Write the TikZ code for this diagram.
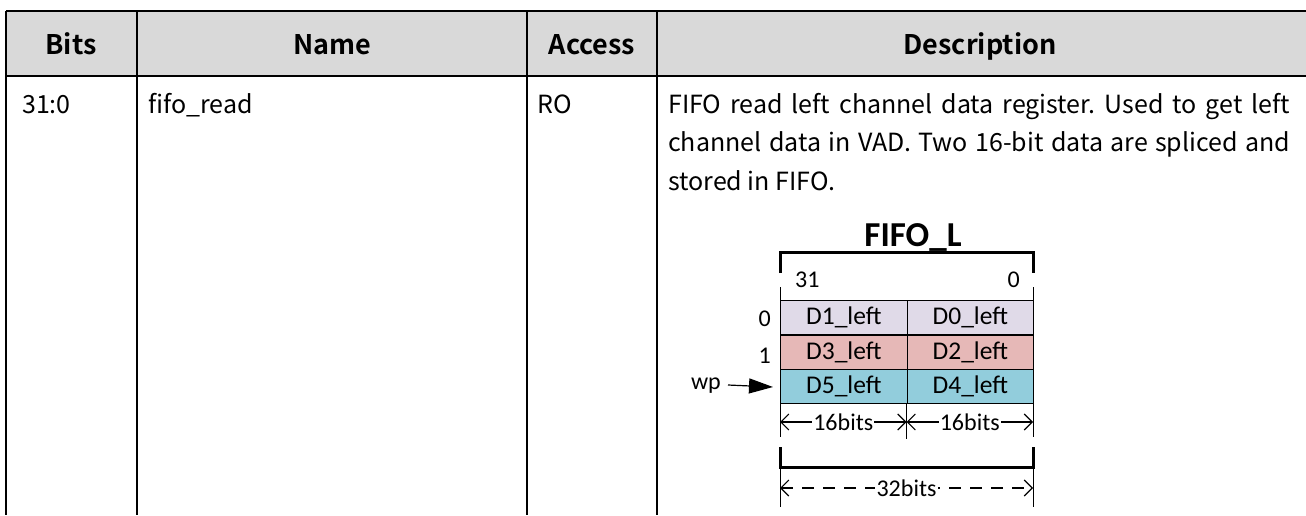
\documentclass[tikz,border=0pt]{standalone}
\usepackage{fontspec}
\usetikzlibrary{arrows.meta}
\newfontfamily\tblfont{Noto Sans CJK SC}[BoldFont={Noto Sans CJK SC Bold}]
\newfontfamily\figfont{Carlito}
\definecolor{hdrgray}{HTML}{D9D9D9}
\definecolor{rowlav}{HTML}{E0DAE8}
\definecolor{rowpink}{HTML}{E6B8B7}
\definecolor{rowteal}{HTML}{92CDDC}
\frenchspacing
\tikzset{
  tline/.style={line width=2pt},
  hdr/.style={font=\tblfont\bfseries\fontsize{27}{30}\selectfont, anchor=base},
  body/.style={font=\tblfont\fontsize{25}{30}\selectfont, anchor=base west, inner sep=0pt},
  cell/.style={draw=black, line width=1.1pt, minimum width=126.5pt, minimum height=34pt, inner sep=0pt, font=\figfont\fontsize{25.5}{26}\selectfont},
  fig/.style={font=\figfont\fontsize{24}{26}\selectfont, inner sep=0pt},
  thin/.style={line width=1pt},
  thick/.style={line width=3pt},
  dim/.style={line width=1.1pt, {Straight Barb[length=8pt,width=16pt]}-{Straight Barb[length=8pt,width=16pt]}},
}
\begin{document}
\begin{tikzpicture}[x=1pt,y=-1pt]
\useasboundingbox (0,0) rectangle (1306,515);
% header
\fill[hdrgray] (6,11) rectangle (1306,76);
\draw[tline] (6,11) -- (1306,11);
\draw[tline] (6,76) -- (1306,76);
\draw[tline] (6,11) -- (6,515);
\draw[tline] (137,11) -- (137,515);
\draw[tline] (527,11) -- (527,515);
\draw[tline] (657,11) -- (657,515);
\node[hdr] (hbits) at (71,54) {Bits};
\node[hdr] (hname) at (332,54) {Name};
\node[hdr] (hacc) at (592,54) {Access};
\node[hdr] (hdesc) at (980,54) {Description};
% body
\node[body] (bits) at (22,113) {31:0};
\node[body] (name) at (148,113) {fifo\_read};
\node[body] (acc) at (537,113) {RO};
\node[body] (d1) at (668,113) {\makebox[622pt][s]{FIFO read left channel data register. Used to get left}};
\node[body] (d2) at (668,151.5) {\makebox[622pt][s]{channel data in VAD. Two 16-bit data are spliced and}};
\node[body] (d3) at (668,190) {stored in FIFO.};
% figure
\node[font=\figfont\bfseries\fontsize{35}{40}\selectfont, anchor=base, inner sep=0pt] (title) at (913,246) {FIFO\_L};
\draw[thick] (780,273) -- (780,252) -- (1033,252) -- (1033,273);
\draw[thin] (780,287) -- (780,300);
\draw[thin] (1033,287) -- (1033,300);
\node[fig, anchor=base west] (b31) at (795,287) {31};
\node[fig, anchor=base east] (b0) at (1020,287) {0};
\node[cell, fill=rowlav, anchor=north west] (c10) at (780,300) {D1\_left};
\node[cell, fill=rowlav, anchor=north west] (c00) at (906.5,300) {D0\_left};
\node[cell, fill=rowpink, anchor=north west] (c11) at (780,334.5) {D3\_left};
\node[cell, fill=rowpink, anchor=north west] (c01) at (906.5,334.5) {D2\_left};
\node[cell, fill=rowteal, anchor=north west] (c12) at (780,369) {D5\_left};
\node[cell, fill=rowteal, anchor=north west] (c02) at (906.5,369) {D4\_left};
\node[fig, anchor=east] (r0) at (771,319) {0};
\node[fig, anchor=east] (r1) at (771,356) {1};
\node[fig, anchor=east] (wp) at (721,386) {wp};
\coordinate (wpend) at (773,387);
\draw[line width=1.2pt, -{Triangle[length=24pt,width=15pt]}] (wp.east) ++(7pt,1pt) -- (wpend);
% 16bits dimension
\coordinate (e1t) at (780,403); \coordinate (e1b) at (780,437);
\coordinate (e2t) at (906.5,403); \coordinate (e2b) at (906.5,439);
\coordinate (e3t) at (1033,403); \coordinate (e3b) at (1033,437);
\draw[thin] (e1t) -- (e1b); \draw[thin] (e2t) -- (e2b); \draw[thin] (e3t) -- (e3b);
\coordinate (a1) at (780,422); \coordinate (a2) at (906.5,422); \coordinate (a3) at (1033,422);
\draw[dim] (a1) -- (a2) node[midway, fill=white, fig, inner xsep=1pt] (l16a) {16bits};
\draw[dim] (a2) -- (a3) node[midway, fill=white, fig, inner xsep=1pt] (l16b) {16bits};
% 32 bits bracket
\draw[thick] (780,447) -- (780,467) -- (1033,467) -- (1033,447);
\draw[thin] (780,467) -- (780,507);
\draw[thin] (1033,467) -- (1033,507);
\coordinate (s1) at (780,488); \coordinate (s2) at (1033,488);
\draw[dim, dash pattern=on 12pt off 9pt] (s1) -- (s2) node[midway, fill=white, fig, inner xsep=2pt] (l32) {32bits};
\end{tikzpicture}
\end{document}
